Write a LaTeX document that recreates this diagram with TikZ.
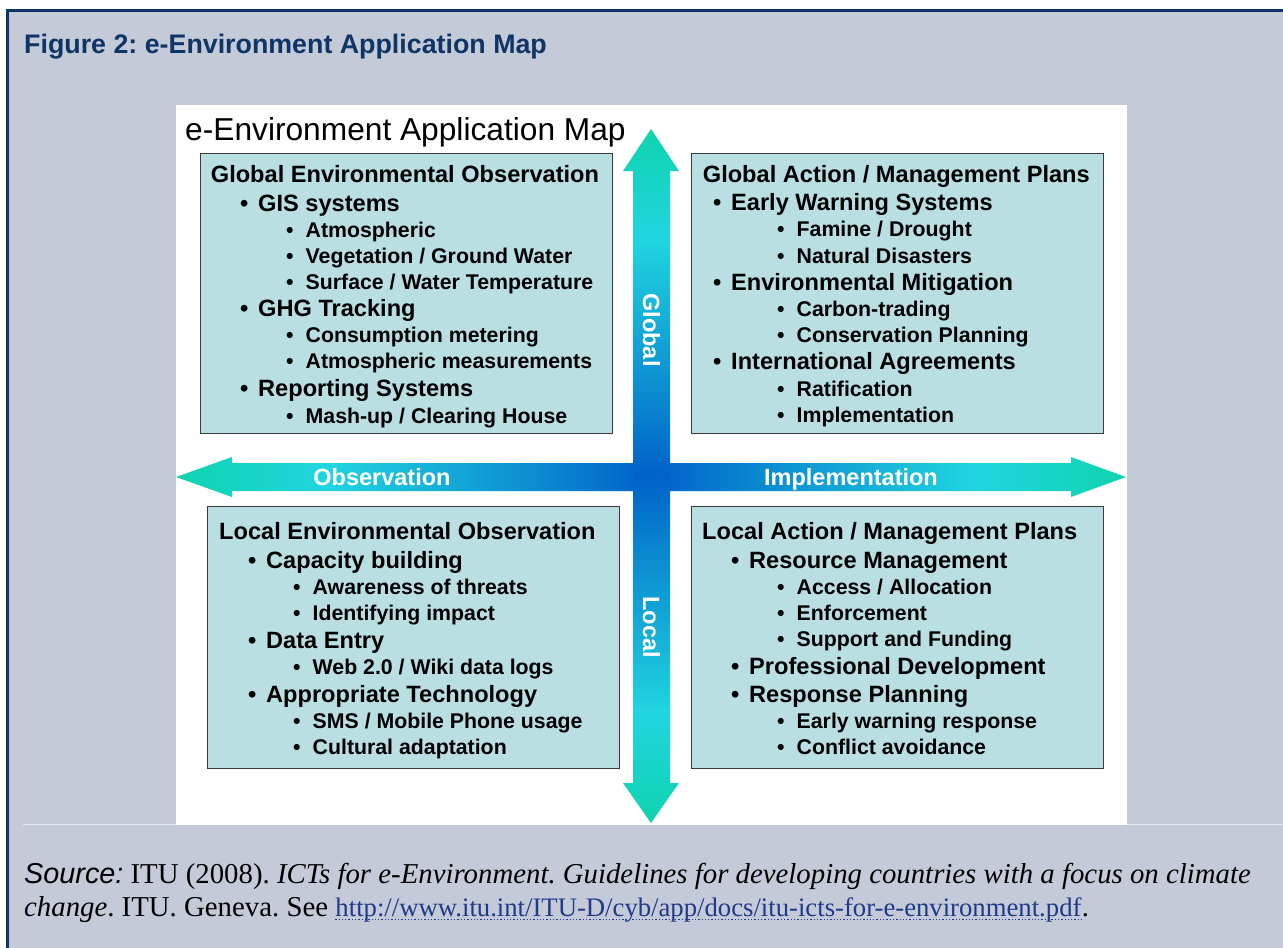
\documentclass[tikz,border=0pt]{standalone}
\usepackage{fontspec}
\setmainfont{Liberation Serif}
\setsansfont{Liberation Sans}
\usetikzlibrary{positioning}
\frenchspacing

\definecolor{framenavy}{HTML}{0E3565}
\definecolor{framegray}{HTML}{C4CAD8}
\definecolor{boxteal}{HTML}{B9DFE3}
\definecolor{boxedge}{HTML}{3A3A3A}
\definecolor{arrgreen}{HTML}{10D3AE}
\definecolor{arrcyan}{HTML}{20D5E0}
\definecolor{arrblue}{HTML}{0062C8}
\definecolor{linkblue}{HTML}{1F3A8A}

\pgfdeclareverticalshading{vaxis}{100bp}{color(0bp)=(arrgreen); color(25bp)=(arrgreen);
  color(33bp)=(arrcyan); color(50bp)=(arrblue); color(67bp)=(arrcyan);
  color(75bp)=(arrgreen); color(100bp)=(arrgreen)}
\pgfdeclarehorizontalshading{haxis}{100bp}{color(0bp)=(arrgreen); color(25bp)=(arrgreen);
  color(33bp)=(arrcyan); color(50bp)=(arrblue); color(67bp)=(arrcyan);
  color(75bp)=(arrgreen); color(100bp)=(arrgreen)}

\tikzset{
	quad/.style={draw=boxedge, line width=1.2pt, fill=boxteal, anchor=north west,
		inner sep=0pt, minimum width=412pt},
	hd/.style={anchor=base west, inner sep=0pt,
		font=\sffamily\bfseries\fontsize{23.6}{28}\selectfont},
	lvla/.style={hd, execute at begin node={\makebox[18pt][l]{\textbullet}}},
	lvlb/.style={anchor=base west, inner sep=0pt,
		font=\sffamily\bfseries\fontsize{21.3}{25}\selectfont,
		execute at begin node={\makebox[19.5pt][l]{\textbullet}}},
	axislabel/.style={text=white, inner sep=0pt,
		font=\sffamily\bfseries\fontsize{23.5}{28}\selectfont},
	srcline/.style={anchor=base west, inner sep=0pt, font=\fontsize{28.8}{33}\selectfont},
}

\begin{document}
\begin{tikzpicture}[x=1pt, y=-1pt]

% frame %{{{2

	\useasboundingbox (0,0) rectangle (1283,948);
	\clip (0,0) rectangle (1283,948);
	\fill[white] (0,0) rectangle (1283,948);
	\fill[framegray] (7,10) rectangle (1290,960);
	\draw[framenavy, line width=3pt] (7,960) -- (7,10) -- (1290,10);
	\draw[white!55!framegray, line width=1pt] (23,824) -- (1290,824);

	\node[anchor=base west, inner sep=0pt, text=framenavy,
		font=\sffamily\bfseries\fontsize{26.8}{30}\selectfont]
		(figtitle) at (24,53) {Figure 2: e-Environment Application Map};

% panel %{{{2

	\fill[white] (176,105) rectangle (1127,825);
	\node[anchor=base west, inner sep=0pt, font=\sffamily\fontsize{31.7}{36}\selectfont]
		(maptitle) at (185,140) {e-Environment Application Map};

% boxes %{{{2

	\node[quad, minimum height=280pt] (globobs) at (200,153) {};
	\node[quad, minimum height=280pt] (globact) at (691,153) {};
	\node[quad, minimum height=262pt] (locobs) at (207,506) {};
	\node[quad, minimum height=262pt] (locact) at (691,506) {};

% arrows %{{{2

	\shade[shading=haxis] (176,477) -- (232,457) -- (232,463) -- (1071,463)
		-- (1071,457) -- (1126,477) -- (1071,497) -- (1071,491)
		-- (232,491) -- (232,497) -- cycle;
	\shade[shading=vaxis] (651,129) -- (679,171) -- (670,171) -- (670,783)
		-- (679,783) -- (651,823) -- (623,783) -- (633,783)
		-- (633,171) -- (623,171) -- cycle;

	\node[axislabel, rotate=-90] (global) at (651.5,330) {Global};
	\node[axislabel, rotate=-90] (local) at (651.5,627) {Local};
	\node[axislabel] (observation) at (382,477) {Observation};
	\node[axislabel] (implementation) at (851,479) {Implementation};

% box texts %{{{2

	\foreach \x/\y/\s/\t [count=\i] in {
		210.7/182/hd/{Global Environmental Observation},
		240/211/lvla/{GIS systems},
		286/237/lvlb/{Atmospheric},
		286/263/lvlb/{Vegetation / Ground Water},
		286/289/lvlb/{Surface / Water Temperature},
		240/316.5/lvla/{GHG Tracking},
		286/342.5/lvlb/{Consumption metering},
		286/368.5/lvlb/{Atmospheric measurements},
		240/396.5/lvla/{Reporting Systems},
		286/423/lvlb/{Mash-up / Clearing House}}
	{ \node[\s] (globobs-\i) at (\x,\y) {\t}; }

	\foreach \x/\y/\s/\t [count=\i] in {
		702.7/182/hd/{Global Action / Management Plans},
		713/210/lvla/{Early Warning Systems},
		777/236.5/lvlb/{Famine / Drought},
		777/263/lvlb/{Natural Disasters},
		713/290/lvla/{Environmental Mitigation},
		777/316.5/lvlb/{Carbon-trading},
		777/342/lvlb/{Conservation Planning},
		713/369/lvla/{International Agreements},
		777/396/lvlb/{Ratification},
		777/422.5/lvlb/{Implementation}}
	{ \node[\s] (globact-\i) at (\x,\y) {\t}; }

	\foreach \x/\y/\s/\t [count=\i] in {
		219/539/hd/{Local Environmental Observation},
		248/568/lvla/{Capacity building},
		293/594/lvlb/{Awareness of threats},
		293/620/lvlb/{Identifying impact},
		248/648/lvla/{Data Entry},
		293/674/lvlb/{Web 2.0 / Wiki data logs},
		248/702/lvla/{Appropriate Technology},
		293/728/lvlb/{SMS / Mobile Phone usage},
		293/754/lvlb/{Cultural adaptation}}
	{ \node[\s] (locobs-\i) at (\x,\y) {\t}; }

	\foreach \x/\y/\s/\t [count=\i] in {
		702/539/hd/{Local Action / Management Plans},
		731/568/lvla/{Resource Management},
		777/594/lvlb/{Access / Allocation},
		777/620/lvlb/{Enforcement},
		777/646/lvlb/{Support and Funding},
		731/674/lvla/{Professional Development},
		731/702/lvla/{Response Planning},
		777/728/lvlb/{Early warning response},
		777/754/lvlb/{Conflict avoidance}}
	{ \node[\s] (locact-\i) at (\x,\y) {\t}; }

% source %{{{2

	\node[srcline] (src-1) at (24,883) {\textsf{\itshape Source:} ITU (2008).
		\textit{ICTs for e-Environment. Guidelines for developing countries with a focus on climate}};
	\node[srcline] (src-2) at (24,916) {\textit{change}. ITU. Geneva. See};
	\node[srcline, text=linkblue, xshift=7pt, font=\fontsize{26.7}{33}\selectfont]
		(url) at (src-2.base east)
		{http://www.itu.int/ITU-D/cyb/app/docs/itu-icts-for-e-environment.pdf};
	\node[srcline] (src-3) at (url.base east) {.};
	\draw[linkblue, dotted, line width=1.3pt]
		([yshift=-3.5pt]url.base west) -- ([yshift=-3.5pt]url.base east);

% closing %{{{2

\end{tikzpicture}
\end{document}
